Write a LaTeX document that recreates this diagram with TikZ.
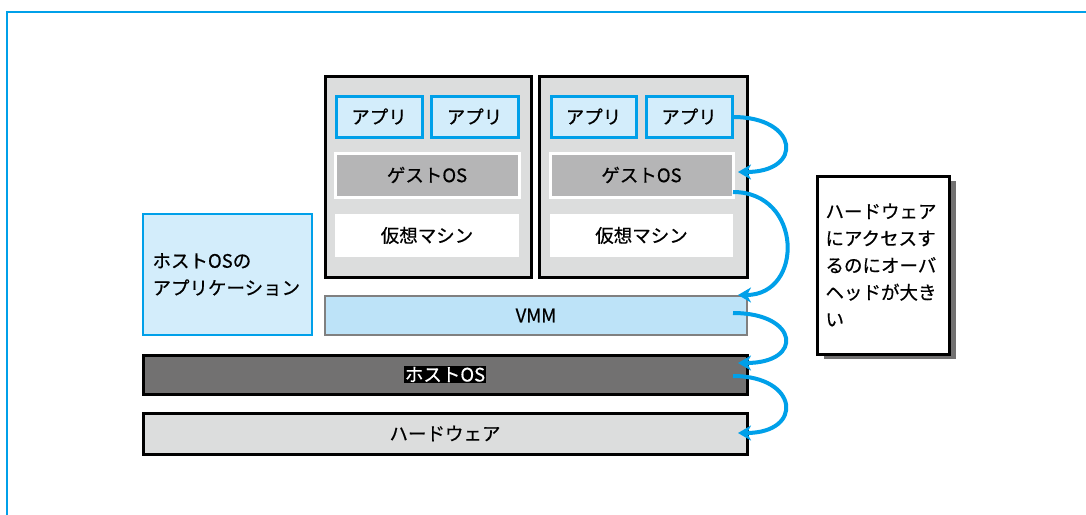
\documentclass[tikz,border=0pt]{standalone}
\usepackage{fontspec}
\setmainfont{Noto Sans CJK JP}[FakeBold=0.5]
\usetikzlibrary{arrows.meta,shadows,calc}
\definecolor{fblue}{HTML}{00A0E9}
\definecolor{appblue}{HTML}{D3EDFB}
\definecolor{vmmblue}{HTML}{BDE3F8}
\definecolor{vmgray}{HTML}{DCDDDD}
\definecolor{guestgray}{HTML}{B5B5B6}
\definecolor{hostgray}{HTML}{727171}
\definecolor{vmmborder}{HTML}{808080}
\tikzset{
  every node/.style={font=\fontsize{18.5}{27}\selectfont, inner sep=0pt, outer sep=0pt},
  vmbox/.style={draw=black, line width=3pt, fill=vmgray},
  appbox/.style={draw=fblue, line width=3pt, fill=appblue, minimum height=41pt},
  guestbox/.style={draw=white, line width=3pt, fill=guestgray, minimum height=44pt},
  vmlabel/.style={fill=white, minimum height=43pt},
  hostapp/.style={draw=fblue, line width=2.5pt, fill=appblue, align=left, text width=150pt},
  vmmbox/.style={draw=vmmborder, line width=2.5pt, fill=vmmblue, minimum height=39pt},
  hostbox/.style={draw=black, line width=3pt, fill=hostgray, minimum height=39pt},
  hwbox/.style={draw=black, line width=3pt, fill=vmgray, minimum height=41pt},
  notebox/.style={draw=black, line width=3pt, fill=white, align=left, text width=115pt,
    drop shadow={shadow xshift=7pt, shadow yshift=-5pt, fill=hostgray, opacity=1}},
  arr/.style={draw=fblue, line width=4pt, -{Stealth[length=13pt,width=15pt,inset=4pt]}},
}
\begin{document}
\begin{tikzpicture}[x=1pt,y=-1pt]
\useasboundingbox (0,0) rectangle (1086,514);
\draw[fblue, line width=2.5pt] (7,520) -- (7,12) -- (1090,12);

% virtual machines
\node[vmbox, minimum width=206pt, minimum height=201pt] (vm1) at (428,176.5) {};
\node[vmbox, minimum width=208pt, minimum height=201pt] (vm2) at (643,176.5) {};

\node[appbox, minimum width=86pt] (a11) at (379,116.5) {アプリ};
\node[appbox, minimum width=87pt] (a12) at (474.5,116.5) {アプリ};
\node[appbox, minimum width=85pt] (a21) at (593.5,116.5) {アプリ};
\node[appbox, minimum width=86pt] (a22) at (689,116.5) {アプリ};

\node[guestbox, minimum width=184pt] (g1) at (427,175) {ゲストOS};
\node[guestbox, minimum width=183pt] (g2) at (641.5,175) {ゲストOS};

\node[vmlabel, minimum width=184pt] (m1) at (427,235.5) {仮想マシン};
\node[vmlabel, minimum width=183pt] (m2) at (641.5,235.5) {仮想マシン};

% host application
\node[hostapp, minimum width=169pt, minimum height=121pt] (ha) at (227.5,274.5) {ホストOSの\\アプリケーション};

% layers
\node[vmmbox, minimum width=422pt] (vmm) at (536,315.5) {VMM};
\node[hostbox, minimum width=604pt] (host) at (445,374.5)
  {{\setlength\fboxsep{0.8pt}\colorbox{black}{\textcolor{white}{ホストOS}}}};
\node[hwbox, minimum width=604pt] (hw) at (445,433.5) {ハードウェア};

% note
\node[notebox, minimum width=132pt, minimum height=178pt] (note) at (883,265)
  {ハードウェア\\にアクセスす\\るのにオーバ\\ヘッドが大き\\い};

% arrows
\coordinate (s1) at ($(a22.east)+(1,0.5)$);
\coordinate (e1) at ($(g2.east)+(5,-3)$);
\coordinate (s2) at ($(g2.east)+(0,17)$);
\coordinate (e2) at ($(vmm.north east)+(-9,-1)$);
\coordinate (s3) at ($(vmm.east)+(-14,-2.5)$);
\coordinate (e3) at ($(host.east)+(-9,-11.5)$);
\coordinate (s4) at ($(host.east)+(-14,1.5)$);
\coordinate (e4) at ($(hw.east)+(-9,-0.5)$);

\draw[arr] (s1) .. controls +(66,0) and +(66,0) .. (e1);
\draw[arr] (s2) .. controls +(70,0) and +(66,0) .. (e2);
\draw[arr] (s3) .. controls +(66,0) and +(66,0) .. (e3);
\draw[arr] (s4) .. controls +(66,0) and +(66,0) .. (e4);
\end{tikzpicture}
\end{document}
